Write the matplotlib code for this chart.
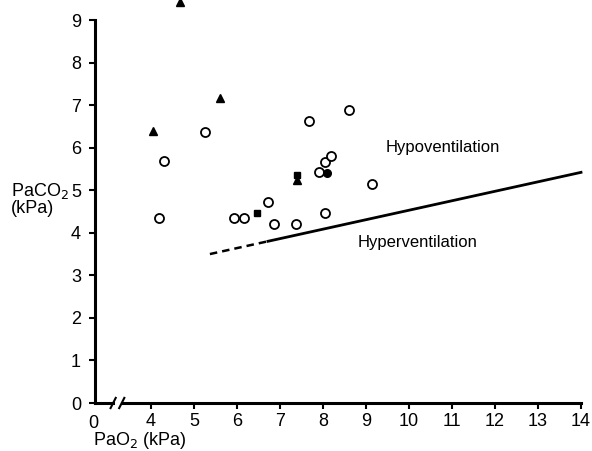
import matplotlib.pyplot as plt

plt.rcParams["font.family"] = ["Liberation Sans", "DejaVu Sans"]

# open circles
circle_x = [4.19, 4.30, 5.26, 5.92, 6.17, 6.71, 6.85, 7.37, 7.67, 7.91, 8.05, 8.19, 8.05, 8.60, 9.13]
circle_y = [4.35, 5.68, 6.37, 4.35, 4.35, 4.72, 4.21, 4.21, 6.63, 5.42, 5.67, 5.81, 4.46, 6.89, 5.14]

# filled triangles
tri_x = [4.05, 4.67, 5.60, 7.40]
tri_y = [6.39, 9.43, 7.17, 5.24]

# filled squares
sq_x = [6.47, 7.39]
sq_y = [4.47, 5.35]

# filled circles
dot_x = [8.09]
dot_y = [5.40]

# boundary line: dashed part then solid part
dash_x = [5.37, 6.72]
dash_y = [3.50, 3.80]
solid_x = [6.72, 14.0]
solid_y = [3.80, 5.42]

x_ticks = [4, 5, 6, 7, 8, 9, 10, 11, 12, 13, 14]
y_ticks = [0, 1, 2, 3, 4, 5, 6, 7, 8, 9]

x_left = 2.698

fig = plt.figure(figsize=(5.92, 4.51), dpi=100)
ax = fig.add_axes([95 / 592, 48 / 451, 486 / 592, 383 / 451])

ax.plot(circle_x, circle_y, "o", ms=6.5, mfc="white", mec="black", mew=1.3, clip_on=False)
ax.plot(tri_x, tri_y, "^", ms=5.5, color="black", clip_on=False)
ax.plot(sq_x, sq_y, "s", ms=4, color="black", clip_on=False)
ax.plot(dot_x, dot_y, "o", ms=5.5, color="black", clip_on=False)

ax.plot(dash_x, dash_y, "--", color="black", lw=1.8, dashes=(3, 2))
ax.plot(solid_x, solid_y, "-", color="black", lw=2, clip_on=False)

ax.text(9.45, 6.0, "Hypoventilation", fontsize=12, va="center", ha="left")
ax.text(8.81, 3.77, "Hyperventilation", fontsize=12, va="center", ha="left")

ax.set_xlim(x_left, 14)
ax.set_ylim(0, 9)
ax.set_xticks(x_ticks)
ax.set_yticks(y_ticks)
ax.tick_params(axis="both", labelsize=13, width=1.5, length=4, direction="out")
ax.tick_params(axis="y", pad=6)
for s in ["top", "right"]:
    ax.spines[s].set_visible(False)
ax.spines["left"].set_linewidth(2.2)
ax.spines["bottom"].set_visible(False)

# x axis line with a break
ax.plot([x_left, 3.12], [0, 0], color="black", lw=2.2, clip_on=False)
ax.plot([3.32, 14], [0, 0], color="black", lw=2.2, clip_on=False)
for bx in [3.12, 3.32]:
    ax.plot([bx - 0.06, bx + 0.06], [-0.12, 0.12], color="black", lw=1.5, clip_on=False)

ax.text(x_left - 0.05, -0.28, "0", fontsize=13, ha="center", va="top")

ax.text(2.1, 4.8, "PaCO$_2$\n(kPa)", fontsize=13, ha="right", va="center",
        multialignment="left", linespacing=0.95)
ax.text(x_left - 0.05, -0.64, "PaO$_2$ (kPa)", fontsize=13, ha="left", va="top")

fig.savefig("out.png", dpi=100)
